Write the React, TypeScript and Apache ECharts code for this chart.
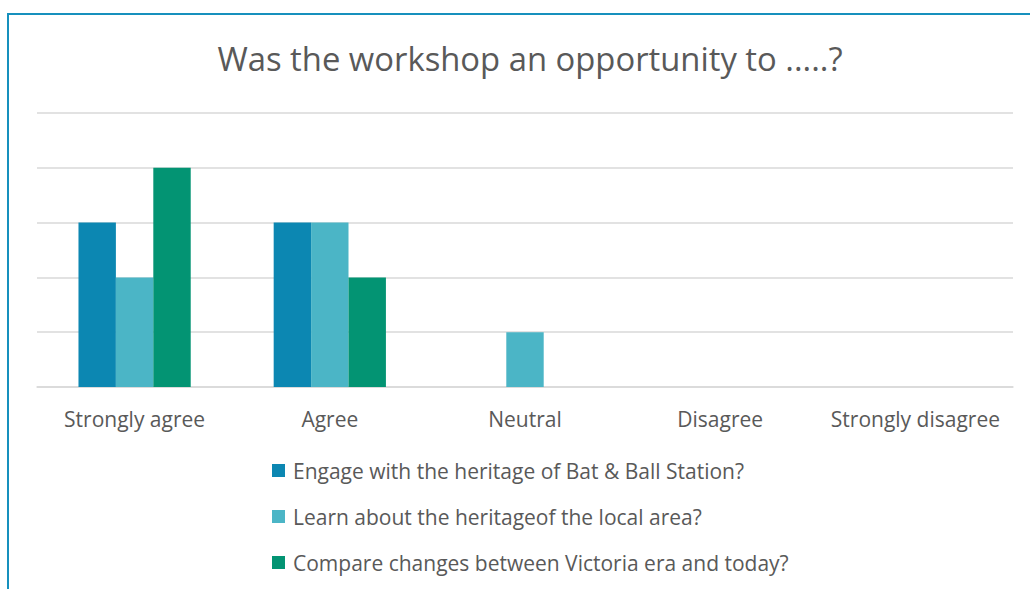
import React, { useEffect, useRef } from "react";
import * as echarts from "echarts";

const categories = ["Strongly agree", "Agree", "Neutral", "Disagree", "Strongly disagree"];
const seriesNames = [
  "Engage with the heritage of Bat & Ball Station?",
  "Learn about the heritageof the local area?",
  "Compare changes between Victoria era and today?",
];
const engageValues = [3, 3, 0, 0, 0];
const learnValues = [2, 3, 1, 0, 0];
const compareValues = [4, 2, 0, 0, 0];
const colors = ["#0C87B2", "#4BB5C6", "#039473"];
const titleText = "Was the workshop an opportunity to .....?";

const FONT = "'Open Sans', Lato, sans-serif";

export default function App() {
  const ref = useRef<HTMLDivElement>(null);
  useEffect(() => {
    if (!ref.current) return;
    const chart = echarts.init(ref.current, null, { renderer: "svg" });
    const values = [engageValues, learnValues, compareValues];
    chart.setOption({
      animation: false,
      textStyle: { fontFamily: FONT },
      title: {
        text: titleText,
        left: 525,
        top: 37,
        textAlign: "center",
        textStyle: { fontFamily: FONT, fontSize: 32.8, fontWeight: "normal", color: "#595959" },
      },
      graphic: [
        {
          type: "polyline",
          shape: { points: [[8, 600], [8, 14], [1040, 14]] },
          style: { stroke: "#1690BD", lineWidth: 2, fill: "none" },
          silent: true,
        },
      ],
      grid: { left: 37, right: 17, top: 113, bottom: 202, containLabel: false },
      legend: {
        orient: "vertical",
        left: 267,
        top: 455,
        icon: "rect",
        itemWidth: 13,
        itemHeight: 13,
        itemGap: 25,
        textStyle: { fontFamily: FONT, fontSize: 21, lineHeight: 20, color: "#595959", padding: [0, 0, 0, 3] },
        data: seriesNames,
      },
      xAxis: {
        type: "category",
        data: categories,
        axisLine: { lineStyle: { color: "#D9D9D9", width: 1.5 } },
        axisTick: { show: false },
        axisLabel: { fontFamily: FONT, fontSize: 21, color: "#595959", margin: 21, interval: 0 },
      },
      yAxis: {
        type: "value",
        min: 0,
        max: 5,
        interval: 1,
        axisLabel: { show: false },
        axisLine: { show: false },
        axisTick: { show: false },
        splitLine: { lineStyle: { color: "#D9D9D9", width: 1.5 } },
      },
      series: seriesNames.map((name, i) => ({
        name,
        type: "bar",
        data: values[i],
        barGap: "0%",
        barCategoryGap: "42.5%",
        itemStyle: { color: colors[i] },
      })),
    });
    return () => chart.dispose();
  }, []);
  return (
    <div
      ref={ref}
      style={{ position: "fixed", left: 0, top: 0, width: 1030, height: 589, background: "#fff" }}
    />
  );
}
